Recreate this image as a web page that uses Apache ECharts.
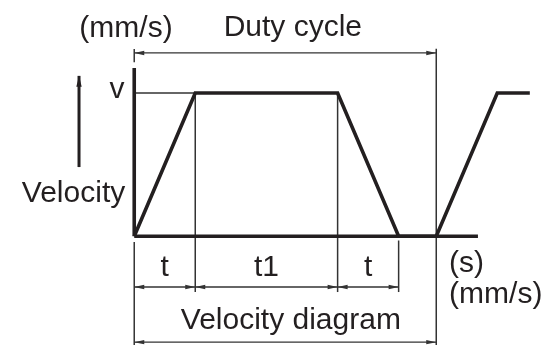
<!DOCTYPE html>
<html>
<head>
    <meta charset="utf-8">
    <title>Velocity diagram</title>
    <script src="https://cdn.jsdelivr.net/npm/echarts@6/dist/echarts.min.js"></script>
    <style>
        html, body { margin: 0; padding: 0; background: #fff; }
    </style>
</head>
<body>
    <div id="main" style="width: 541px;height:345px;"></div>
    <script type="text/javascript">
        // velocity profile (time in arbitrary units, velocity normalised to v = 1)
        var profileTime = [0, 6, 20, 26, 29.7, 35.7, 38.9];
        var profileVel  = [0, 1, 1, 0, 0, 1, 1];

        // thick frame: velocity axis and time axis  [x1, y1, x2, y2]
        var frameSegs = [
            [0, 0, 0, 1.175],
            [0, 0, 33.8, 0]
        ];
        // thin guide / extension lines
        var guideSegs = [
            [0, 1, 6, 1],
            [6, 1, 6, -0.39],
            [20, 1, 20, -0.39],
            [26, -0.03, 26, -0.39],
            [0, -0.04, 0, -0.76],
            [29.7, 1.31, 29.7, -0.76],
            [0, 1.307, 0, 1.216]
        ];
        // dimension arrows (both ends)
        var dimSegs = [
            [0, -0.355, 6, -0.355],
            [6, -0.355, 20, -0.355],
            [20, -0.355, 26, -0.355],
            [0, -0.74, 29.7, -0.74],
            [0, 1.28, 29.7, 1.28]
        ];
        var dimLabels = ['t', 't1', 't'];
        var dimLabelLevel = -0.22;

        // "Velocity" arrow (one end)
        var velArrow = [[-5.43, 0.483, -5.43, 1.12]];

        var centerLabels = ['(mm/s)', 'Duty cycle', 'v', 'Velocity', 'Velocity diagram'];
        var centerLabelPos = [[-0.81, 1.45], [15.6, 1.454], [-1.69, 1.024], [-5.97, 0.298], [15.4, -0.588]];
        var unitLabels = ['(s)', '(mm/s)'];
        var unitLabelPos = [[30.96, -0.19], [30.96, -0.409]];

        var ink = '#231f20';
        var thin = '#333333';
        var font = '30px "Liberation Sans", Arial, sans-serif';

        var myChart = echarts.init(document.getElementById('main'), null, {renderer: 'canvas'});

        function segRender(width, color) {
            return function (params, api) {
                var a = api.coord([api.value(0), api.value(1)]);
                var b = api.coord([api.value(2), api.value(3)]);
                return {
                    type: 'line',
                    shape: {x1: a[0], y1: a[1], x2: b[0], y2: b[1]},
                    style: {stroke: color, lineWidth: width}
                };
            };
        }

        // triangle head with tip at p, pointing away from q
        function head(p, q, len, half, color) {
            var dx = p[0] - q[0], dy = p[1] - q[1];
            var d = Math.sqrt(dx * dx + dy * dy) || 1;
            var ux = dx / d, uy = dy / d;
            var bx = p[0] - ux * len, by = p[1] - uy * len;
            return {
                type: 'polygon',
                shape: {points: [[p[0], p[1]], [bx - uy * half, by + ux * half], [bx + uy * half, by - ux * half]]},
                style: {fill: color}
            };
        }

        function arrowRender(width, color, len, half, both) {
            return function (params, api) {
                var a = api.coord([api.value(0), api.value(1)]);
                var b = api.coord([api.value(2), api.value(3)]);
                var kids = [{
                    type: 'line',
                    shape: {x1: a[0], y1: a[1], x2: b[0], y2: b[1]},
                    style: {stroke: color, lineWidth: width}
                }, head(b, a, len, half, color)];
                if (both) kids.push(head(a, b, len, half, color));
                return {type: 'group', children: kids};
            };
        }

        function textRender(texts, align) {
            return function (params, api) {
                var p = api.coord([api.value(0), api.value(1)]);
                return {
                    type: 'text',
                    x: p[0], y: p[1],
                    style: {text: texts[params.dataIndex], font: font, fill: ink, align: align, verticalAlign: 'middle'}
                };
            };
        }

        var dimLabelPos = dimLabels.map(function (s, i) {
            return [(dimSegs[i][0] + dimSegs[i][2]) / 2, dimLabelLevel];
        });

        var option = {
            animation: false,
            grid: {left: 0, right: 0, top: 0, bottom: 0},
            xAxis: {type: 'value', min: -13.2, max: 40.0, show: false},
            yAxis: {type: 'value', min: -0.76, max: 1.65, show: false},
            series: [
                {type: 'custom', renderItem: segRender(1.5, thin), data: guideSegs, z: 1},
                {type: 'custom', renderItem: arrowRender(1.3, thin, 10, 2.2, true), data: dimSegs, z: 1},
                {type: 'custom', renderItem: segRender(3.6, ink), data: frameSegs, z: 3},
                {
                    type: 'line',
                    data: profileTime.map(function (t, i) { return [t, profileVel[i]]; }),
                    symbol: 'none',
                    lineStyle: {color: ink, width: 3.6, join: 'miter'},
                    z: 3
                },
                {type: 'custom', renderItem: arrowRender(3, ink, 11, 2.7, false), data: velArrow, z: 3},
                {type: 'custom', renderItem: textRender(centerLabels, 'center'), data: centerLabelPos, z: 4},
                {type: 'custom', renderItem: textRender(dimLabels, 'center'), data: dimLabelPos, z: 4},
                {type: 'custom', renderItem: textRender(unitLabels, 'left'), data: unitLabelPos, z: 4}
            ]
        };

        myChart.setOption(option);
    </script>
</body>
</html>
